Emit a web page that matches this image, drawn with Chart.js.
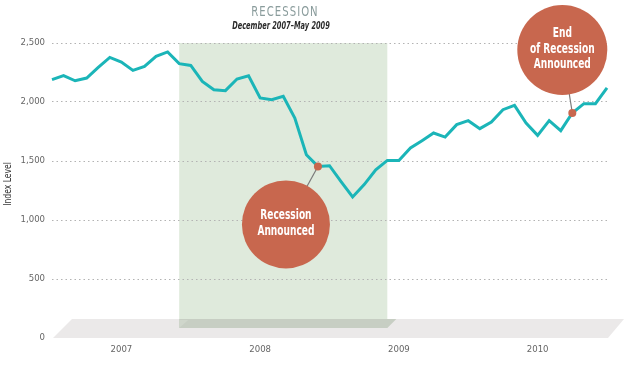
<!DOCTYPE html>
<html>
<head>
<meta charset="utf-8">
<script src="https://cdn.jsdelivr.net/npm/chart.js@4"></script>
<style>
  html, body { margin: 0; padding: 0; background: #fff; }
  #wrap { width: 624px; height: 366px; position: relative; }
</style>
</head>
<body>
<div id="wrap"><canvas id="grafico"></canvas></div>
<script>
// --- datos del gráfico ---
const years = ['2007', '2008', '2009', '2010'];
const monthNames = ['Jan', 'Feb', 'Mar', 'Apr', 'May', 'Jun', 'Jul', 'Aug', 'Sep', 'Oct', 'Nov', 'Dec'];
// nivel mensual del índice, ene 2007 – ene 2011
const indexLevel = [
  2189, 2223, 2180, 2203, 2293, 2378, 2339, 2268, 2302, 2387, 2424, 2325,
  2310, 2175, 2104, 2096, 2195, 2223, 2034, 2020, 2048, 1864, 1553, 1454,
  1460, 1325, 1195, 1300, 1426, 1505, 1505, 1610, 1672, 1737, 1703, 1808,
  1842, 1774, 1831, 1935, 1971, 1822, 1717, 1842, 1757, 1907, 1986, 1986,
  2119
];
const yTicks = [0, 500, 1000, 1500, 2000, 2500];
const recessionStart = 'Dec 2007';   // inicio de la zona sombreada
const recessionEnd = 'Jun 2009';     // final (fin de mayo 2009)
const announcements = [
  { month: 'Dec 2008', lines: ['Recession', 'Announced'] },
  { month: 'Oct 2010', lines: ['End', 'of Recession', 'Announced'] }
];

// etiquetas de meses
const labels = [];
years.concat(['2011']).forEach(y => monthNames.forEach(m => labels.push(m + ' ' + y)));
labels.length = indexLevel.length;

const FONT = "'Liberation Sans Narrow', 'DejaVu Sans Condensed', sans-serif";
const TEAL = '#1bb5b8';
const RED = '#c8674e';

// texto comprimido en horizontal (la fuente original es condensada)
function textoAngosto(ctx, texto, x, y, sx) {
  ctx.save();
  ctx.translate(x, y);
  ctx.scale(sx, 1);
  ctx.fillText(texto, 0, 0);
  ctx.restore();
}

// --- decoraciones: piso, sombra de recesión, burbujas ---
const decoraciones = {
  id: 'decoraciones',
  beforeDraw(chart) {
    const { ctx, chartArea, scales: { x, y } } = chart;
    const y0 = y.getPixelForValue(0);
    const yFloor = y.getPixelForValue(160);
    const yShadeBottom = y.getPixelForValue(85);
    ctx.save();
    // piso gris
    ctx.fillStyle = '#ebe9e9';
    ctx.beginPath();
    ctx.moveTo(chartArea.left + 20, yFloor);
    ctx.lineTo(chart.width, yFloor);
    ctx.lineTo(chartArea.right + 1, y0);
    ctx.lineTo(chartArea.left + 1, y0);
    ctx.closePath();
    ctx.fill();
    // zona de recesión
    const xs = x.getPixelForValue(labels.indexOf(recessionStart));
    const xe = x.getPixelForValue(labels.indexOf(recessionEnd));
    ctx.fillStyle = '#dfeadc';
    ctx.fillRect(xs, chartArea.top, xe - xs, yShadeBottom - chartArea.top);
    ctx.fillStyle = '#c7cec3';
    ctx.beginPath();
    ctx.moveTo(xs, yFloor);
    ctx.lineTo(xe + 9, yFloor);
    ctx.lineTo(xe, yShadeBottom);
    ctx.lineTo(xs, yShadeBottom);
    ctx.closePath();
    ctx.fill();
    ctx.fillStyle = '#cfd6cb';
    ctx.beginPath();
    ctx.moveTo(xs, yFloor + 1);
    ctx.lineTo(xs + 9, yFloor + 1);
    ctx.lineTo(xs, yShadeBottom);
    ctx.closePath();
    ctx.fill();
    ctx.restore();
  },
  afterDatasetsDraw(chart) {
    const { ctx, scales: { x, y } } = chart;
    const offsets = [{ dx: -32, dy: 58, r: 44 }, { dx: -10, dy: -63, r: 45 }];
    ctx.save();
    announcements.forEach((a, i) => {
      const idx = labels.indexOf(a.month);
      const px = x.getPixelForValue(idx);
      const py = y.getPixelForValue(indexLevel[idx]);
      const cx = px + offsets[i].dx;
      const cy = py + offsets[i].dy;
      // conector
      ctx.strokeStyle = '#7a7a7a';
      ctx.lineWidth = 1.2;
      ctx.beginPath();
      ctx.moveTo(px, py);
      ctx.lineTo(cx, cy);
      ctx.stroke();
      // burbuja
      ctx.fillStyle = RED;
      ctx.beginPath();
      ctx.arc(cx, cy, offsets[i].r, 0, Math.PI * 2);
      ctx.fill();
      // punto
      ctx.beginPath();
      ctx.arc(px, py, 4, 0, Math.PI * 2);
      ctx.fill();
      // texto
      ctx.fillStyle = '#ffffff';
      ctx.font = 'bold 14px ' + FONT;
      ctx.textAlign = 'center';
      ctx.textBaseline = 'middle';
      const lh = 15.5;
      const startY = cy - (a.lines.length - 1) * lh / 2 - 1;
      a.lines.forEach((t, j) => textoAngosto(ctx, t, cx, startY + j * lh, 0.72));
    });
    ctx.restore();
  },
  afterDraw(chart) {
    const { ctx } = chart;
    ctx.save();
    ctx.textAlign = 'center';
    ctx.textBaseline = 'middle';
    ctx.fillStyle = '#8a9c9c';
    ctx.font = '14px ' + FONT;
    ctx.letterSpacing = '1.3px';
    textoAngosto(ctx, 'RECESSION', 285, 12, 0.8);
    ctx.letterSpacing = '0px';
    ctx.fillStyle = '#2b2b2b';
    ctx.font = 'italic bold 10.5px ' + FONT;
    textoAngosto(ctx, 'December 2007\u2013May 2009', 281, 26, 0.7);
    // título del eje y
    ctx.translate(8, 184);
    ctx.rotate(-Math.PI / 2);
    ctx.font = '10px ' + FONT;
    ctx.fillStyle = '#333';
    textoAngosto(ctx, 'Index Level', 0, 0, 0.85);
    ctx.restore();
  }
};

const ctx = document.getElementById('grafico').getContext('2d');
new Chart(ctx, {
  type: 'line',
  data: {
    labels: labels,
    datasets: [{
      label: 'Index Level',
      data: indexLevel,
      borderColor: TEAL,
      borderWidth: 3,
      pointRadius: 0,
      tension: 0,
      clip: 6
    }]
  },
  options: {
    responsive: true,
    maintainAspectRatio: false,
    animation: false,
    layout: { padding: { top: 43, right: 17, left: 0, bottom: 0 } },
    plugins: { legend: { display: false }, tooltip: { enabled: false } },
    scales: {
      x: {
        type: 'category',
        offset: false,
        grid: { display: false, drawTicks: false },
        border: { display: false },
        ticks: {
          autoSkip: false,
          maxRotation: 0,
          padding: 6,
          color: '#666',
          font: { family: FONT, size: 9.5 },
          callback: (v, i) => (i % 12 === 6 ? years[Math.floor(i / 12)] : '')
        },
        afterFit: s => { s.height = 28; }
      },
      y: {
        min: 0,
        max: 2500,
        afterBuildTicks: s => { s.ticks = yTicks.map(v => ({ value: v })); },
        grid: {
          drawTicks: false,
          lineWidth: 1,
          color: c => (c.tick && c.tick.value === 0 ? 'rgba(0,0,0,0)' : '#b3b3b3')
        },
        border: { display: false, dash: [1.5, 3] },
        ticks: {
          padding: 7,
          color: '#666',
          font: { family: FONT, size: 9.5 },
          callback: v => v.toLocaleString('en-US')
        },
        afterFit: s => { s.width = 52; }
      }
    }
  },
  plugins: [decoraciones]
});
</script>
</body>
</html>
